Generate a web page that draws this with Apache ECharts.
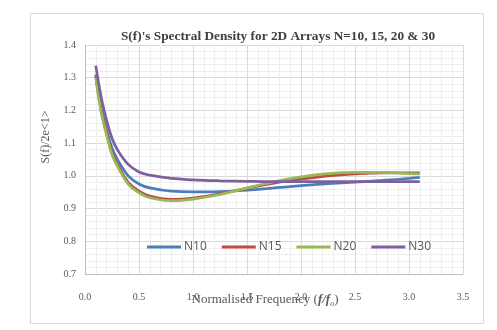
<!DOCTYPE html>
<html>
<head>
<meta charset="utf-8">
<script src="https://cdn.jsdelivr.net/npm/echarts@6/dist/echarts.min.js"></script>
<style>
  html, body { margin: 0; padding: 0; background: #fff; }
  #chart { width: 497px; height: 330px; }
</style>
</head>
<body>
<div id="chart"></div>
<script>
  // normalised frequency sample points
  const freq = [0.1, 0.15, 0.2, 0.25, 0.3, 0.4, 0.5, 0.6, 0.8, 1.0, 1.25, 1.5, 1.75, 2.0, 2.25, 2.5, 2.75, 3.0, 3.1]

  const n10 = [1.31, 1.21, 1.14, 1.085, 1.05, 1.0, 0.975, 0.963, 0.953, 0.951, 0.952, 0.956, 0.963, 0.970, 0.976, 0.981, 0.986, 0.992, 0.995]
  const n15 = [1.305, 1.20, 1.13, 1.07, 1.035, 0.98, 0.953, 0.938, 0.928, 0.932, 0.945, 0.962, 0.978, 0.99, 1.0, 1.006, 1.009, 1.009, 1.009]
  const n20 = [1.30, 1.195, 1.125, 1.065, 1.03, 0.975, 0.948, 0.933, 0.924, 0.929, 0.943, 0.963, 0.982, 0.997, 1.007, 1.011, 1.011, 1.007, 1.006]
  const n30 = [1.337, 1.24, 1.17, 1.115, 1.08, 1.035, 1.012, 1.002, 0.992, 0.988, 0.985, 0.983, 0.982, 0.982, 0.982, 0.982, 0.982, 0.982, 0.982]

  const seriesNames = ['N10', 'N15', 'N20', 'N30']
  const seriesData = [n10, n15, n20, n30]
  const colors = ['#4a7ebb', '#be4b48', '#98b954', '#7d60a0']

  const serif = '"Liberation Serif", "DejaVu Serif", serif'

  const chart = echarts.init(document.getElementById('chart'))
  chart.setOption({
    animation: false,
    color: colors,
    graphic: [
      {
        type: 'rect',
        shape: { x: 30.5, y: 13.5, width: 453, height: 310 },
        style: { fill: 'none', stroke: '#d9d9d9', lineWidth: 1 },
        silent: true
      },
      // axis titles, placed where the original puts them
      {
        type: 'text',
        x: 265,
        y: 300,
        z: 10,
        style: {
          text: '{n|Normalised Frequency (}{i|f/f}{s|o}{n|)}',
          align: 'center',
          verticalAlign: 'middle',
          rich: {
            n: { fontFamily: serif, fontSize: 13, fill: '#595959' },
            i: { fontFamily: serif, fontSize: 13, fontStyle: 'italic', fontWeight: 'bold', fill: '#595959' },
            s: { fontFamily: serif, fontSize: 8, fontStyle: 'italic', fill: '#595959', padding: [7, 0, 0, 0] }
          }
        }
      },
      {
        type: 'text',
        x: 46,
        y: 137,
        rotation: Math.PI / 2,
        style: {
          text: 'S(f)/2e<1>',
          align: 'center',
          verticalAlign: 'middle',
          fontFamily: serif,
          fontSize: 12,
          fill: '#595959'
        }
      }
    ],
    title: {
      text: "S(f)'s Spectral Density for 2D Arrays N=10, 15, 20 & 30",
      left: 273,
      textAlign: 'center',
      top: 25,
      textStyle: { fontFamily: serif, fontSize: 13.3, fontWeight: 'bold', color: '#404040' }
    },
    legend: {
      data: seriesNames,
      left: 142,
      top: 236,
      itemWidth: 34,
      itemHeight: 3,
      itemGap: 15,
      icon: 'rect',
      textStyle: { fontFamily: '"Open Sans", "Liberation Sans", sans-serif', fontSize: 12, color: '#595959', padding: [0, 0, 0, -2] }
    },
    grid: { left: 85, right: 34, top: 45, bottom: 56 },
    xAxis: {
      type: 'value',
      min: 0,
      max: 3.5,
      interval: 0.5,
      axisLine: { show: true, lineStyle: { color: '#bfbfbf' } },
      axisTick: { show: false },
      axisLabel: {
        margin: 18,
        formatter: v => v.toFixed(1),
        fontFamily: serif, fontSize: 10, color: '#595959'
      },
      splitLine: { show: true, lineStyle: { color: '#d9d9d9' } },
      minorTick: { show: false, splitNumber: 5 },
      minorSplitLine: { show: true, lineStyle: { color: '#eeeeee' } }
    },
    yAxis: {
      type: 'value',
      min: 0.7,
      max: 1.4,
      interval: 0.1,
      axisLine: { show: true, lineStyle: { color: '#bfbfbf' } },
      axisTick: { show: false },
      axisLabel: {
        margin: 9,
        formatter: v => v.toFixed(1),
        fontFamily: serif, fontSize: 10, color: '#595959'
      },
      splitLine: { show: true, lineStyle: { color: '#d9d9d9' } },
      minorTick: { show: false, splitNumber: 5 },
      minorSplitLine: { show: true, lineStyle: { color: '#eeeeee' } }
    },
    series: seriesNames.map((name, i) => ({
      name: name,
      type: 'line',
      data: freq.map((f, j) => [f, seriesData[i][j]]),
      smooth: 0.4,
      showSymbol: false,
      lineStyle: { width: 2.75 }
    }))
  })
</script>
</body>
</html>
